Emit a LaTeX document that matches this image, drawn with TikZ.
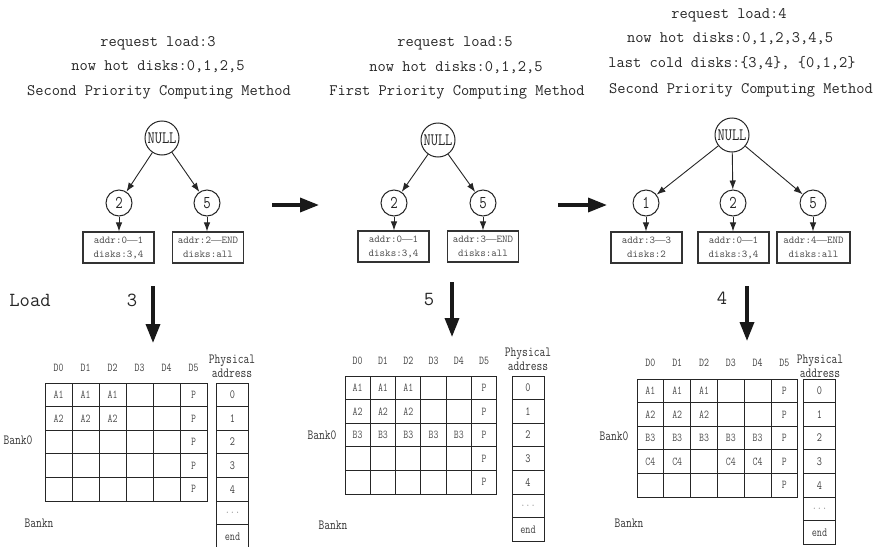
\documentclass[tikz,border=0pt]{standalone}
\usepackage{fontspec}
\usetikzlibrary{arrows.meta}

% a condensed cut of the typewriter face for the tree and bank labels
\newfontfamily\narrowtt{Latin Modern Mono}[FakeStretch=0.8]
\newfontfamily\dashfont{Liberation Serif}
\newcommand\rangedash{{\dashfont —}}

% one disk bank: column heads D0..D5, 5x6 cells, physical-address column
% #1 tag, #2 left x, #3 top y, #4 cell width, #5 head y, #6 address left x, #7 rows
\newcommand\diskbank[7]{%
  \foreach \c in {0,...,5}{%
    \node[colhead] (#1h\c) at ({#2+(\c+0.5)*#4}, #5) {D\c};
  }
  \foreach \r/\row in {#7}{%
    \foreach \v [count=\c from 0] in \row {%
      \node[diskcell, minimum width=#4pt] (#1c\r\c) at ({#2+(\c+0.5)*#4}, {#3+(\r+0.5)*23.6}) {\v};
    }
  }
  \foreach \a [count=\i from 0] in {0,1,2,3,4,{\textcolor{black!40}{...}},end}{%
    \node[addrcell] (#1a\i) at ({#6+16.5}, {#3+(\i+0.5)*23.6}) {\a};
  }
}

\begin{document}
\begin{tikzpicture}[x=1pt,y=-1pt,
  titletext/.style={font=\ttfamily\fontsize{16}{19}\selectfont, text=black!85, inner sep=0pt},
  treenode/.style={circle, draw=black!85, line width=1pt, minimum size=26pt, inner sep=0pt,
    text=black!85, font=\narrowtt\fontsize{18}{18}\selectfont},
  rootnode/.style={treenode, minimum size=34pt, font=\narrowtt\fontsize{17.5}{18}\selectfont},
  rangebox/.style={draw=black!80, line width=1.1pt, minimum width=71pt, minimum height=31pt, inner sep=0pt,
    align=center, text=black!70, font=\ttfamily\fontsize{10.5}{14}\selectfont},
  treelink/.style={-{Latex[length=9pt,width=6.5pt]}, line width=0.9pt, black!85},
  bigarrow/.style={-{Triangle[length=19pt,width=14pt]}, line width=3.5pt, black!90},
  loadlabel/.style={font=\ttfamily\fontsize{20}{22}\selectfont, text=black!85, inner sep=0pt},
  colhead/.style={font=\narrowtt\fontsize{12}{13}\selectfont, text=black!75, inner sep=0pt},
  diskcell/.style={draw=black!85, line width=1pt, minimum height=23.6pt, inner sep=0pt,
    font=\narrowtt\fontsize{12}{13}\selectfont, text=black!70},
  addrcell/.style={draw=black!85, line width=1pt, minimum width=32pt, minimum height=23.6pt, inner sep=0pt,
    font=\narrowtt\fontsize{12.5}{13}\selectfont, text=black!75},
  sidelabel/.style={font=\narrowtt\fontsize{14}{14}\selectfont, text=black!80, inner sep=0pt, align=center},
]
\useasboundingbox (0,0) rectangle (885,546);

% ---------- state 1 ----------
\node[titletext] (t1a) at (158,43) {request load:3};
\node[titletext] (t1b) at (158,67) {now hot disks:0,1,2,5};
\node[titletext] (t1c) at (159,92) {Second Priority Computing Method};
\node[rootnode] (r1) at (162,138) {NULL};
\node[treenode] (r1a) at (119,203) {2};
\node[treenode] (r1b) at (207,203) {5};
\node[rangebox] (b1a) at (118.5,247.5) {addr:0\rangedash1\\disks:3,4};
\node[rangebox] (b1b) at (208,247.5) {addr:2\rangedash END\\disks:all};
\draw[treelink] (r1) -- (r1a);
\draw[treelink] (r1) -- (r1b);
\draw[treelink] (r1a) -- (r1a |- b1a.north);
\draw[treelink] (r1b) -- (r1b |- b1b.north);

% ---------- state 2 ----------
\node[titletext] (t2a) at (455,43) {request load:5};
\node[titletext] (t2b) at (456,68) {now hot disks:0,1,2,5};
\node[titletext] (t2c) at (457,92) {First Priority Computing Method};
\node[rootnode] (r2) at (438,140) {NULL};
\node[treenode] (r2a) at (394,203) {2};
\node[treenode] (r2b) at (483,203) {5};
\node[rangebox] (b2a) at (393.5,246.5) {addr:0\rangedash1\\disks:3,4};
\node[rangebox] (b2b) at (483,246.5) {addr:3\rangedash END\\disks:all};
\draw[treelink] (r2) -- (r2a);
\draw[treelink] (r2) -- (r2b);
\draw[treelink] (r2a) -- (r2a |- b2a.north);
\draw[treelink] (r2b) -- (r2b |- b2b.north);

% ---------- state 3 ----------
\node[titletext] (t3a) at (729,15) {request load:4};
\node[titletext] (t3b) at (730,39) {now hot disks:0,1,2,3,4,5};
\node[titletext] (t3c) at (732,63) {last cold disks:\{3,4\}, \{0,1,2\}};
\node[titletext] (t3d) at (741,90) {Second Priority Computing Method};
\node[rootnode] (r3) at (732,135) {NULL};
\node[treenode] (r3a) at (646,203) {1};
\node[treenode] (r3b) at (733,203) {2};
\node[treenode] (r3c) at (813,203) {5};
\node[rangebox] (b3a) at (646.5,247.5) {addr:3\rangedash3\\disks:2};
\node[rangebox] (b3b) at (733.5,247.5) {addr:0\rangedash1\\disks:3,4};
\node[rangebox, minimum width=73pt] (b3c) at (813.5,247.5) {addr:4\rangedash END\\disks:all};
\draw[treelink] (r3) -- (r3a);
\draw[treelink] (r3) -- (r3b);
\draw[treelink] (r3) -- (r3c);
\draw[treelink] (r3a) -- (r3a |- b3a.north);
\draw[treelink] (r3b) -- (r3b |- b3b.north);
\draw[treelink] (r3c) -- (r3c |- b3c.north);

% ---------- transitions ----------
\coordinate (h1s) at (272,205);
\coordinate (h1e) at (319,205);
\coordinate (h2s) at (558,205);
\coordinate (h2e) at (607,205);
\draw[bigarrow] (h1s) -- (h1e);
\draw[bigarrow] (h2s) -- (h2e);

% ---------- loads ----------
\node[loadlabel] (load) at (30,300) {Load};
\node[loadlabel] (l1) at (132,300) {3};
\node[loadlabel] (l2) at (429,300) {5};
\node[loadlabel] (l3) at (722,298) {4};
\coordinate (d1s) at (153,286);
\coordinate (d1e) at (153,343);
\coordinate (d2s) at (452,282);
\coordinate (d2e) at (452,337);
\coordinate (d3s) at (747,286);
\coordinate (d3e) at (747,341);
\draw[bigarrow] (d1s) -- (d1e);
\draw[bigarrow] (d2s) -- (d2e);
\draw[bigarrow] (d3s) -- (d3e);

% ---------- banks ----------
\diskbank{p}{45}{383}{27}{368}{216}{%
  0/{A1,A1,A1,{},{},P},1/{A2,A2,A2,{},{},P},2/{{},{},{},{},{},P},3/{{},{},{},{},{},P},4/{{},{},{},{},{},P}}
\node[sidelabel] (pa1) at (232,366) {Physical\\address};
\node[sidelabel] (bz1) at (18,440) {Bank0};
\node[sidelabel] (bn1) at (39,523) {Bankn};

\diskbank{q}{345}{376}{25.3}{361}{511.5}{%
  0/{A1,A1,A1,{},{},P},1/{A2,A2,A2,{},{},P},2/{B3,B3,B3,B3,B3,P},3/{{},{},{},{},{},P},4/{{},{},{},{},{},P}}
\node[sidelabel] (pa2) at (528,359) {Physical\\address};
\node[sidelabel] (bz2) at (322,435) {Bank0};
\node[sidelabel] (bn2) at (333,525) {Bankn};

\diskbank{s}{637}{379}{26.8}{363}{803}{%
  0/{A1,A1,A1,{},{},P},1/{A2,A2,A2,{},{},P},2/{B3,B3,B3,B3,B3,P},3/{C4,C4,{},C4,C4,P},4/{{},{},{},{},{},P}}
\node[sidelabel] (pa3) at (820,366) {Physical\\address};
\node[sidelabel] (bz3) at (614,436) {Bank0};
\node[sidelabel] (bn3) at (629,523) {Bankn};
\end{tikzpicture}
\end{document}
